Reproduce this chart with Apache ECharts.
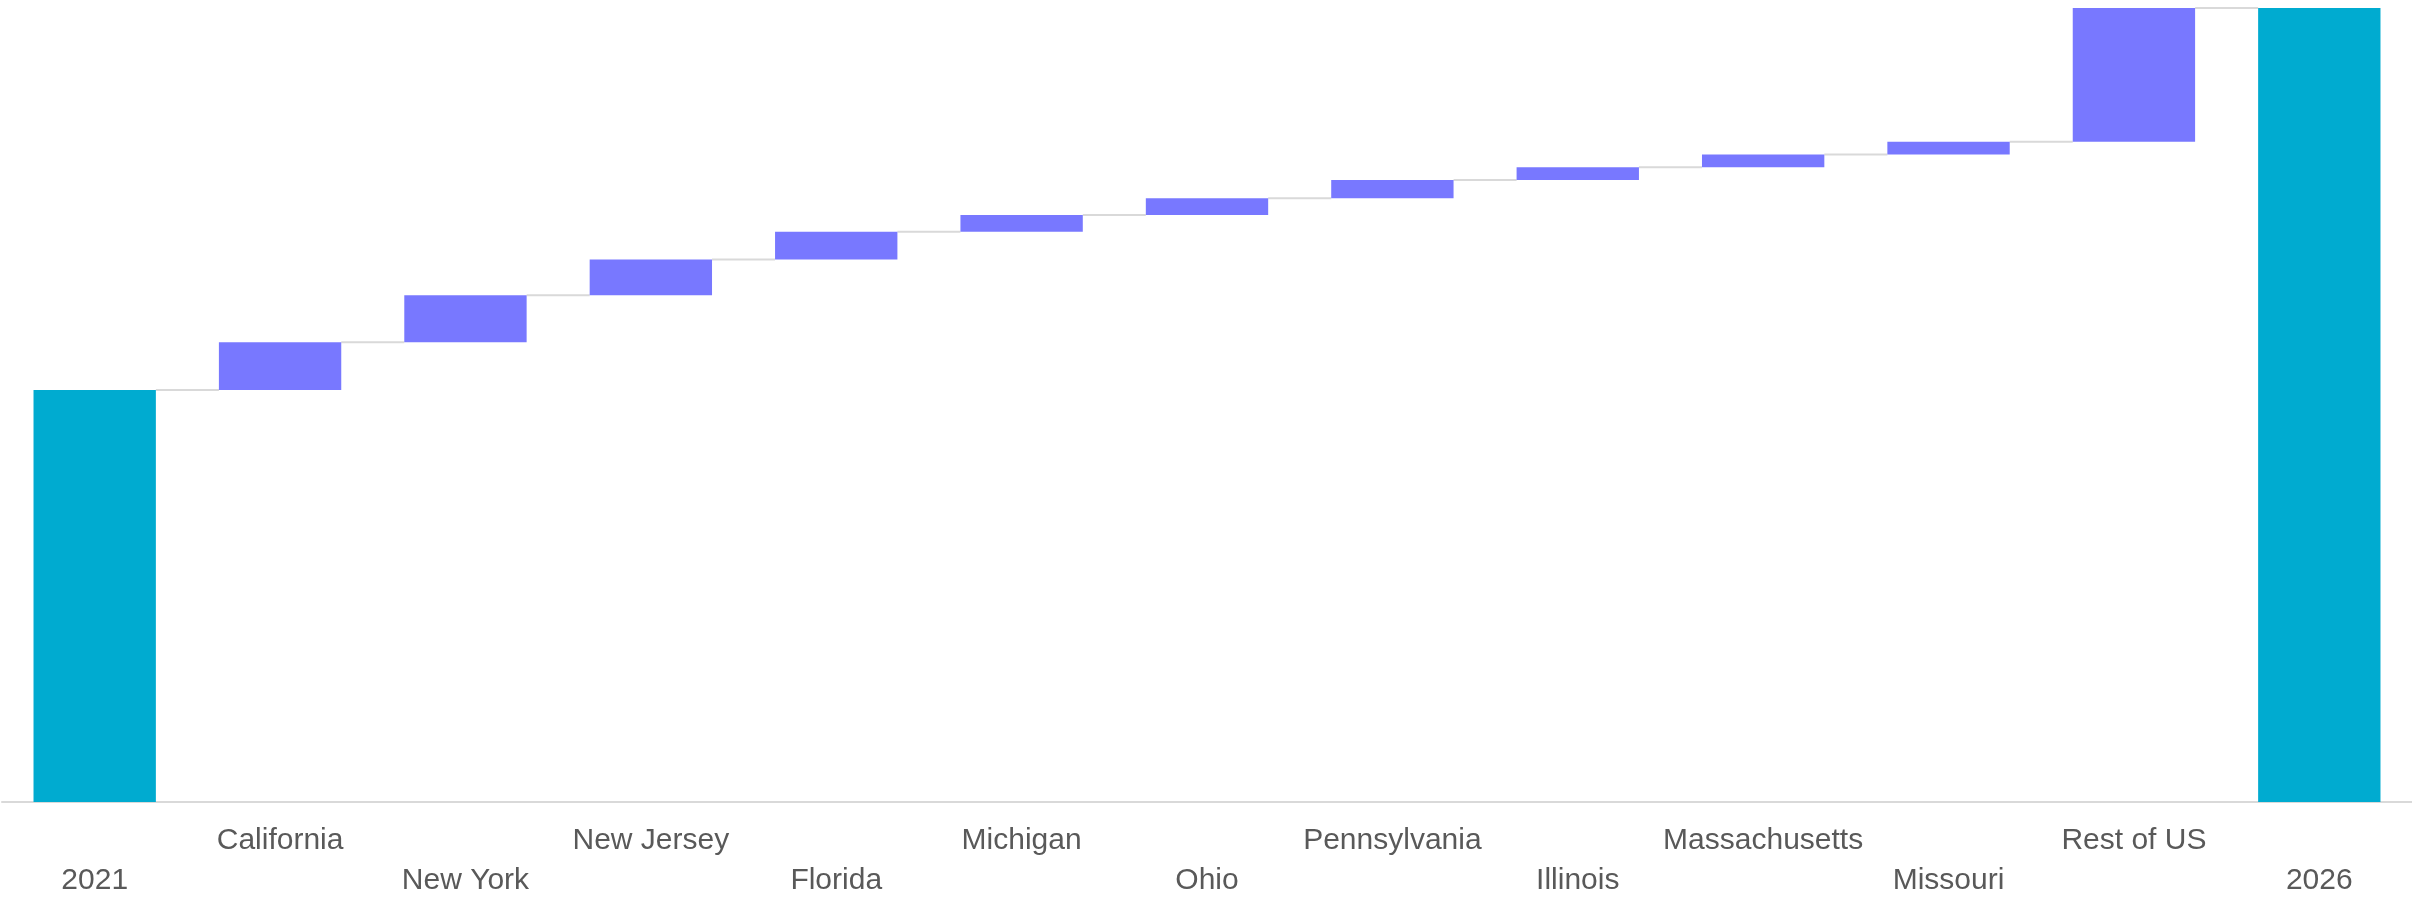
<!DOCTYPE html>
<html>
<head>
<meta charset="utf-8">
<script src="https://cdn.jsdelivr.net/npm/echarts@6/dist/echarts.min.js"></script>
<style>
html,body{margin:0;padding:0;background:#fff;}
#chart{width:2412px;height:901px;}
</style>
</head>
<body>
<div id="chart"></div>
<script>
const categories = ['2021','California','New York','New Jersey','Florida','Michigan','Ohio','Pennsylvania','Illinois','Massachusetts','Missouri','Rest of US','2026'];
const startValue = 51.8;
const changes = [6.0, 5.9, 4.5, 3.5, 2.1, 2.1, 2.3, 1.6, 1.6, 1.6, 16.8];
const endValue = 99.8;

const TOTAL_COLOR = '#00ABD0';
const CHANGE_COLOR = '#7878FF';

const baseData = [];
const barData = [];
const levels = [];
baseData.push(0);
barData.push({ value: startValue, itemStyle: { color: TOTAL_COLOR } });
let running = startValue;
levels.push([0, running]);
changes.forEach((c, k) => {
  baseData.push(running);
  barData.push({ value: c, itemStyle: { color: CHANGE_COLOR } });
  running += c;
  levels.push([k + 1, running]);
});
baseData.push(0);
barData.push({ value: endValue, itemStyle: { color: TOTAL_COLOR } });

const BAR_RATIO = 0.66;

const chart = echarts.init(document.getElementById('chart'));
chart.setOption({
  animation: false,
  backgroundColor: '#ffffff',
  grid: { left: 2, right: 0, top: 6.5, bottom: 98, containLabel: false },
  xAxis: {
    type: 'category',
    data: categories,
    axisLine: { show: true, lineStyle: { color: '#d9d9d9', width: 2 } },
    axisTick: { show: false },
    axisLabel: {
      interval: 0,
      margin: 19,
      color: '#595959',
      fontFamily: 'Liberation Sans, Arial, sans-serif',
      fontSize: 30,
      lineHeight: 40,
      formatter: (v, idx) => (idx % 2 === 0 ? '\n' + v : v)
    },
    splitLine: { show: false }
  },
  yAxis: {
    type: 'value',
    min: 0,
    max: 100,
    show: false,
    splitLine: { show: false }
  },
  series: [
    {
      type: 'bar',
      stack: 'wf',
      barWidth: (BAR_RATIO * 100) + '%',
      itemStyle: { color: 'rgba(0,0,0,0)' },
      emphasis: { disabled: true },
      data: baseData,
      z: 2
    },
    {
      type: 'bar',
      stack: 'wf',
      barWidth: (BAR_RATIO * 100) + '%',
      data: barData,
      z: 3
    },
    {
      type: 'custom',
      data: levels,
      z: 1,
      renderItem: function (params, api) {
        const i = api.value(0);
        const lvl = api.value(1);
        const p1 = api.coord([i, lvl]);
        const p2 = api.coord([i + 1, lvl]);
        const bw = api.size([1, 0])[0] * BAR_RATIO;
        return {
          type: 'line',
          shape: { x1: p1[0] + bw / 2, y1: p1[1], x2: p2[0] - bw / 2, y2: p2[1] },
          style: { stroke: '#d9d9d9', lineWidth: 2 }
        };
      }
    }
  ]
});
</script>
</body>
</html>
